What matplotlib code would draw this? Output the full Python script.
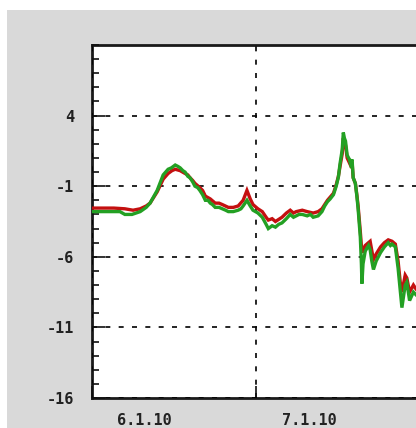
import numpy as np
import matplotlib
matplotlib.use("Agg")
import matplotlib.pyplot as plt
import matplotlib.dates as mdates
from matplotlib.patches import Rectangle

plt.rcParams["axes.unicode_minus"] = False

start = np.datetime64("2010-06-01T00:00")

green_days = [0, 1.5, 3.3, 5.1, 6.0, 7.3, 8.8, 9.9, 10.6, 11.9, 12.4, 13.0, 13.9, 14.5, 15.2, 15.7,
              16.1, 16.6, 17.0, 17.5, 17.9, 18.4, 18.8, 19.3, 19.7, 20.2, 20.7, 21.2, 21.6, 22.0,
              22.5, 23.2, 23.8, 24.4, 24.9, 25.8, 26.7, 27.2, 27.6, 28.3, 28.9, 29.4,
              30.3, 31.1, 31.8, 32.2, 32.9, 33.5, 34.1, 34.7, 35.5, 36.2, 36.8, 37.3, 37.8,
              38.4, 39.3, 39.9, 40.4, 41.3, 42.0, 42.5, 43.0, 43.5, 44.1, 44.6, 45.0, 45.3,
              45.7, 45.9, 46.1, 46.3, 46.6, 47.0, 47.2, 47.5,
              47.7, 48.1, 48.4, 48.6, 49.0, 49.2, 49.3, 49.5, 49.9, 50.5, 50.8, 51.1, 51.4, 51.9,
              52.3, 52.7, 53.4, 54.1, 54.5, 54.8, 55.4, 55.9, 56.3, 56.6, 57.2, 57.5, 58.0, 58.7,
              59.2, 60.0]
green_vals = [-2.8, -2.8, -2.8, -2.8, -3.0, -3.0, -2.8, -2.5, -2.2, -1.3, -0.8, -0.2, 0.2, 0.3, 0.5, 0.4,
              0.3, 0.1, 0.0, -0.3, -0.4, -0.7, -1.0, -1.1, -1.3, -1.6, -2.0, -2.0, -2.2, -2.3,
              -2.5, -2.5, -2.6, -2.7, -2.8, -2.8, -2.7, -2.6, -2.4, -2.0, -2.4, -2.7,
              -2.9, -3.2, -3.7, -4.0, -3.8, -3.9, -3.7, -3.6, -3.3, -3.0, -3.2, -3.1, -3.0,
              -3.0, -3.1, -3.0, -3.2, -3.1, -2.8, -2.4, -2.1, -1.9, -1.6, -1.0, -0.35, 0.6,
              1.6, 2.8, 2.4, 2.2, 1.2, 0.9, 0.6, 0.9,
              -0.4, -0.8, -1.8, -2.6, -4.6, -6.5, -7.9, -6.5, -5.6, -5.2, -5.5, -6.3, -6.9, -6.3,
              -6.0, -5.7, -5.3, -5.0, -5.2, -5.1, -5.3, -6.8, -8.4, -9.6, -8.0, -7.8, -9.1, -8.5,
              -8.7, -9.0]

red_days = [0, 2.0, 4.0, 6.0, 7.5, 8.8, 9.9, 10.6, 11.9, 13.0, 13.9, 14.6, 15.2, 16.1, 17.0,
            17.5, 17.9, 18.4, 18.8, 19.7, 20.2, 20.7, 21.6, 22.5, 23.2, 23.8, 24.9, 25.8, 26.7,
            27.6, 28.0, 28.3, 28.6, 28.9, 29.4,
            30.3, 31.1, 31.8, 32.2, 32.9, 33.5, 34.7, 35.5, 36.2, 36.8, 37.3, 38.4, 39.3, 40.4,
            41.3, 42.0, 43.0, 44.1, 44.6, 45.0, 45.3, 45.7, 45.9, 46.3, 46.6, 47.2, 47.5,
            47.7, 48.1, 48.4, 48.6, 49.0, 49.3, 49.5, 49.9, 50.5, 50.8, 51.4, 51.9,
            52.7, 53.4, 54.1, 54.8, 55.4, 55.9, 56.3, 56.6, 57.2, 57.5, 58.0, 58.7, 59.2, 60.0]
red_vals = [-2.55, -2.55, -2.55, -2.6, -2.7, -2.6, -2.4, -2.2, -1.4, -0.5, -0.1, 0.1, 0.2, 0.1, -0.1,
            -0.2, -0.4, -0.6, -0.8, -1.1, -1.3, -1.7, -1.9, -2.2, -2.2, -2.3, -2.5, -2.5, -2.4,
            -2.0, -1.6, -1.3, -1.6, -1.9, -2.3,
            -2.6, -2.8, -3.2, -3.4, -3.3, -3.5, -3.2, -2.9, -2.7, -2.9, -2.8, -2.7, -2.8, -2.9,
            -2.8, -2.6, -2.0, -1.5, -0.9, -0.3, 0.4, 1.3, 2.4, 1.9, 1.0, 0.5, 0.7,
            -0.4, -0.8, -1.7, -2.4, -4.2, -5.7, -5.5, -5.2, -5.0, -4.9, -6.2, -5.8,
            -5.3, -5.0, -4.8, -4.9, -5.1, -6.3, -7.8, -8.5, -7.3, -7.5, -8.5, -8.0, -8.3, -8.6]

xticks = ["2010-06-01", "2010-07-01"]
xticklabels = ["6.1.10", "7.1.10"]
yticks = [-16, -11, -6, -1, 4]

def to_dates(days):
    return start + (np.array(days) * 24 * 60).astype("timedelta64[m]")

W, H = 416, 428
fig = plt.figure(figsize=(W / 100, H / 100), dpi=100)
fig.patch.set_facecolor("white")
fig.patches.append(Rectangle((7 / W, 0), 1, (H - 10) / H, transform=fig.transFigure,
                             facecolor="#d9d9d9", edgecolor="none", zorder=-10))

ax = fig.add_axes([92 / W, 30 / H, 334 / W, 353 / H])
ax.set_facecolor("white")

ax.plot(to_dates(red_days), red_vals, color="#c41010", lw=2.4, solid_joinstyle="miter", zorder=3)
ax.plot(to_dates(green_days), green_vals, color="#23a023", lw=2.4, solid_joinstyle="miter", zorder=4)

ax.set_ylim(-16, 9)
ax.set_xlim(np.datetime64("2010-06-01"), np.datetime64("2010-08-01"))

ax.set_yticks(yticks)
ax.set_yticks(np.arange(-16, 10, 1), minor=True)
xt = mdates.date2num([np.datetime64(d) for d in xticks])
ax.set_xticks(xt)
ax.set_xticklabels([""] * len(xt))

font = dict(family="DejaVu Sans Mono", weight="bold", size=11)
for lab in ax.get_yticklabels():
    lab.set_fontproperties(matplotlib.font_manager.FontProperties(**font))
    lab.set_color("#222222")
for x, lab in zip(xt, xticklabels):
    ax.annotate(lab, xy=(x, 0), xycoords=("data", "axes fraction"),
                xytext=(38, -16), textcoords="offset points",
                ha="center", va="center", color="#222222", annotation_clip=False, **font)

ax.tick_params(axis="y", which="major", direction="in", length=9, width=1.2, pad=13, color="#111111")
ax.tick_params(axis="y", which="minor", direction="in", length=5, width=1.2, color="#111111")
ax.tick_params(axis="x", which="major", direction="in", length=9, width=1.2, pad=12, color="#111111")

ax.grid(True, which="major", color="black", linestyle=(0, (3, 5)), lw=1.2)
ax.set_axisbelow(False)
for ln in ax.get_xgridlines() + ax.get_ygridlines():
    ln.set_zorder(2)

for side in ["left", "bottom", "top"]:
    ax.spines[side].set_linewidth(2)
    ax.spines[side].set_color("#1a1a1a")
ax.spines["right"].set_visible(False)

fig.savefig("out.png", dpi=100)
